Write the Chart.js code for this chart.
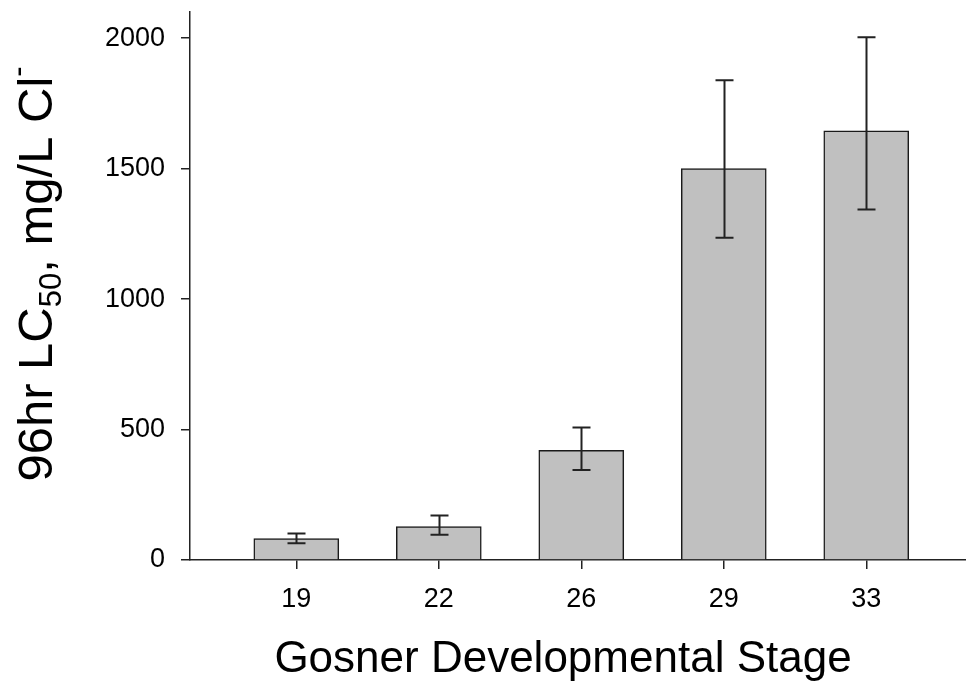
<!DOCTYPE html>
<html>
<head>
<meta charset="utf-8">
<script src="https://cdn.jsdelivr.net/npm/chart.js@4.4.1/dist/chart.umd.min.js"></script>
<style>
html,body{margin:0;padding:0;background:#fff;}
#wrap{width:966px;height:689px;position:relative;}
</style>
</head>
<body>
<div id="wrap"><canvas id="c" width="966" height="689"></canvas></div>
<script>
const categories = ['19', '22', '26', '29', '33'];
const lc50 = [82, 128, 420, 1500, 1645];
const ciUpper = [102, 171, 508, 1838, 2003];
const ciLower = [64, 97, 345, 1235, 1343];
const yTicks = [0, 500, 1000, 1500, 2000];
const xTitle = 'Gosner Developmental Stage';
const yTitleParts = [
  {t: '96hr LC', k: 'n'},
  {t: '50', k: 'sub'},
  {t: ', mg/L Cl', k: 'n'},
  {t: '-', k: 'sup'}
];

const FONT = 'Arial, "Liberation Sans", sans-serif';
const AXIS = '#222';

const errorBars = {
  id: 'errorBars',
  afterDatasetsDraw(chart) {
    const {ctx, scales: {x, y}} = chart;
    ctx.save();
    ctx.strokeStyle = '#222';
    ctx.lineWidth = 2;
    const cap = 9;
    categories.forEach((c, i) => {
      const px = Math.round(x.getPixelForValue(i)) + 0.5;
      const yt = y.getPixelForValue(ciUpper[i]);
      const yb = y.getPixelForValue(ciLower[i]);
      ctx.beginPath();
      ctx.moveTo(px, yt); ctx.lineTo(px, yb);
      ctx.moveTo(px - cap, yt); ctx.lineTo(px + cap, yt);
      ctx.moveTo(px - cap, yb); ctx.lineTo(px + cap, yb);
      ctx.stroke();
    });
    ctx.restore();
  }
};

const titles = {
  id: 'titles',
  afterDraw(chart) {
    const {ctx} = chart;
    ctx.save();
    ctx.fillStyle = '#000';
    // x title
    ctx.font = '44px ' + FONT;
    ctx.textAlign = 'center';
    ctx.textBaseline = 'alphabetic';
    ctx.fillText(xTitle, 563, 672);
    // y title (rotated, with sub/superscript)
    const big = 49, small = 31;
    const widths = yTitleParts.map(p => {
      ctx.font = (p.k === 'n' ? big : small) + 'px ' + FONT;
      return ctx.measureText(p.t).width;
    });
    const total = widths.reduce((a, b) => a + b, 0);
    ctx.translate(52, 274);
    ctx.rotate(-Math.PI / 2);
    ctx.textAlign = 'left';
    let xpos = -total / 2;
    yTitleParts.forEach((p, i) => {
      ctx.font = (p.k === 'n' ? big : small) + 'px ' + FONT;
      let dy = 0;
      if (p.k === 'sub') dy = 9;
      if (p.k === 'sup') dy = -24;
      ctx.fillText(p.t, xpos, dy);
      xpos += widths[i];
    });
    ctx.restore();
  }
};

new Chart(document.getElementById('c'), {
  type: 'bar',
  data: {
    datasets: [{
      data: lc50.map((v, i) => ({x: i, y: v})),
      backgroundColor: '#c0c0c0',
      borderColor: '#1a1a1a',
      borderWidth: 1.5,
      barThickness: 85
    }]
  },
  options: {
    responsive: false,
    animation: false,
    devicePixelRatio: 1,
    layout: {padding: {top: 12, right: 0, left: 0, bottom: 0}},
    plugins: {legend: {display: false}, tooltip: {enabled: false}},
    scales: {
      x: {
        type: 'linear',
        offset: false,
        min: -0.746,
        max: 4.70,
        afterBuildTicks(scale) {
          scale.ticks = categories.map((c, i) => ({value: i}));
        },
        afterFit(scale) {
          scale.height = 129;
          scale.paddingLeft = 0; scale.paddingRight = 0;
        },
        grid: {display: true, offset: false, drawOnChartArea: false, drawTicks: true, tickLength: 9, color: AXIS, lineWidth: 1.5},
        border: {display: true, color: AXIS, width: 1.5},
        ticks: {
          autoSkip: false,
          maxRotation: 0,
          padding: 14,
          color: '#000',
          font: {family: FONT, size: 27},
          callback: v => categories[v]
        }
      },
      y: {
        type: 'linear',
        min: 0,
        max: 2100,
        afterBuildTicks(scale) {
          scale.ticks = yTicks.map(v => ({value: v}));
        },
        afterFit(scale) {
          scale.width = 190;
          scale.paddingTop = 0; scale.paddingBottom = 0;
        },
        grid: {display: true, drawOnChartArea: false, drawTicks: true, tickLength: 9, color: AXIS, lineWidth: 1.5},
        border: {display: true, color: AXIS, width: 1.5},
        ticks: {
          padding: 16,
          color: '#000',
          font: {family: FONT, size: 27},
          callback: v => String(v)
        }
      }
    }
  },
  plugins: [errorBars, titles]
});
</script>
</body>
</html>
